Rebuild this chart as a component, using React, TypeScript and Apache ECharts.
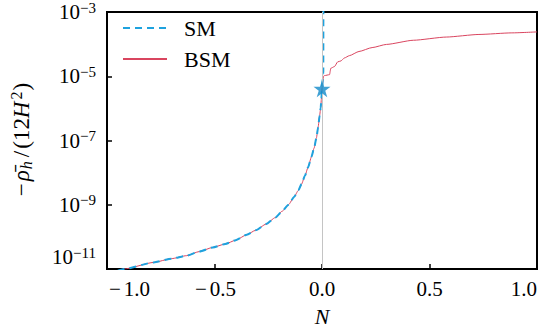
import React, { useEffect, useRef } from 'react';
import * as echarts from 'echarts';

// Shared branch (SM and BSM coincide for N <= 0)
const sharedN = [-0.95, -0.92, -0.783, -0.70, -0.63, -0.57, -0.508, -0.45, -0.401, -0.35, -0.309, -0.26, -0.217, -0.185, -0.156, -0.13, -0.11, -0.095, -0.08, -0.065, -0.049, -0.037, -0.026, -0.018, -0.011, -0.006, -0.003, 0];
const sharedRho = [8.9e-12, 1.0e-11, 1.6e-11, 2.1e-11, 2.6e-11, 3.5e-11, 4.7e-11, 6.0e-11, 7.9e-11, 1.17e-10, 1.6e-10, 2.5e-10, 4.0e-10, 6.3e-10, 1.0e-9, 1.74e-9, 2.8e-9, 4.4e-9, 7.8e-9, 1.45e-8, 3.1e-8, 5.75e-8, 1.2e-7, 2.6e-7, 6.0e-7, 1.05e-6, 1.9e-6, 4.1e-6];

// SM tail (shoots up just after N = 0)
const smTailN = [0.006, 0.0065];
const smTailRho = [1.3e-5, 1e-2];

// BSM tail (saturates for N > 0)
const bsmTailN = [0.007, 0.012, 0.035, 0.041, 0.058, 0.073, 0.088, 0.104, 0.127, 0.172, 0.233, 0.30, 0.425, 0.578, 0.730, 0.883, 1.0];
const bsmTailRho = [1.0e-5, 1.05e-5, 1.12e-5, 1.78e-5, 2.0e-5, 2.8e-5, 3.0e-5, 3.7e-5, 4.37e-5, 5.9e-5, 7.8e-5, 9.8e-5, 1.32e-4, 1.66e-4, 2.0e-4, 2.24e-4, 2.4e-4];

// Star marker
const starN = [0];
const starRho = [4.1e-6];

const seriesNames = ['SM', 'BSM'];

const FONT = '"Liberation Serif", "Times New Roman", serif';
const BLUE = '#1ea2de';
const RED = '#d9455f';
const STAR = '#1289c9';

const zip = (xs: number[], ys: number[]) => xs.map((x, i) => [x, ys[i]]);

export default function App() {
  const ref = useRef<HTMLDivElement>(null);
  useEffect(() => {
    if (!ref.current) return;
    const chart = echarts.init(ref.current, undefined, { renderer: 'svg' });
    const shared = zip(sharedN, sharedRho);
    const smData = shared.concat(zip(smTailN, smTailRho));
    const bsmData = shared.concat(zip(bsmTailN, bsmTailRho));
    const starData = zip(starN, starRho);

    chart.setOption({
      animation: false,
      textStyle: { fontFamily: FONT },
      grid: {
        left: 102.5,
        right: 2.5,
        top: 2,
        bottom: 61,
        show: true,
        borderColor: '#000',
        borderWidth: 2,
        backgroundColor: 'transparent',
      },
      legend: {
        data: seriesNames,
        orient: 'vertical',
        left: 122,
        top: 16,
        padding: 0,
        itemWidth: 44,
        itemHeight: 2,
        itemGap: 7,
        itemStyle: { opacity: 0 },
        textStyle: {
          fontFamily: FONT,
          fontSize: 22,
          lineHeight: 24,
          color: '#000',
          padding: [0, 0, 0, 12],
        },
      },
      xAxis: {
        type: 'value',
        min: -1,
        max: 1,
        interval: 0.5,
        name: 'N',
        nameLocation: 'middle',
        nameGap: 36,
        nameTextStyle: { fontFamily: FONT, fontSize: 22, fontStyle: 'italic', color: '#000' },
        axisLine: { show: false, onZero: false },
        axisTick: { show: true, inside: true, length: 5, lineStyle: { color: '#000', width: 1.5 } },
        splitLine: { show: false },
        axisLabel: {
          margin: 9,
          color: '#000',
          fontFamily: FONT,
          fontSize: 21,
          alignMinLabel: 'left',
          alignMaxLabel: 'right',
          formatter: (v: number) => (v < 0 ? '{m|−}' + Math.abs(v).toFixed(1) : v.toFixed(1)),
          rich: {
            m: { fontFamily: FONT, fontSize: 21, color: '#000', padding: [0, 3, 0, 2] },
          },
        },
      },
      yAxis: {
        type: 'log',
        logBase: 10,
        min: 1e-11,
        max: 1e-3,
        interval: 2,
        name: '{m|−}{i|ρ̄}{sb|h}{m|/}{t|(12}{i|H}{sp|2}{t|)}',
        nameLocation: 'middle',
        nameRotate: 90,
        nameGap: 73,
        nameTextStyle: {
          fontFamily: FONT,
          fontSize: 23,
          color: '#000',
          rich: {
            t: { fontFamily: FONT, fontSize: 23, lineHeight: 26, color: '#000' },
            m: { fontFamily: FONT, fontSize: 23, lineHeight: 26, color: '#000', padding: [0, 2, 0, 2] },
            i: { fontFamily: FONT, fontSize: 23, lineHeight: 26, fontStyle: 'italic', color: '#000', padding: [0, 1, 0, 0] },
            sb: { fontFamily: FONT, fontSize: 16, lineHeight: 17, fontStyle: 'italic', verticalAlign: 'bottom', color: '#000', padding: [0, 2, 0, 0] },
            sp: { fontFamily: FONT, fontSize: 16, lineHeight: 17, verticalAlign: 'top', color: '#000', padding: [0, 1, 0, 1] },
          },
        },
        axisLine: { show: false, onZero: false },
        axisTick: { show: true, inside: true, length: 5, lineStyle: { color: '#000', width: 1.5 } },
        minorTick: { show: false },
        splitLine: { show: false },
        axisLabel: {
          margin: 11,
          color: '#000',
          fontFamily: FONT,
          verticalAlignMinLabel: 'bottom',
          verticalAlignMaxLabel: 'top',
          formatter: (v: number) => {
            const e = Math.round(Math.log10(v));
            return '{b|10}{s|' + (e < 0 ? '−' : '') + Math.abs(e) + '}';
          },
          rich: {
            b: { fontFamily: FONT, fontSize: 21, lineHeight: 24, color: '#000' },
            s: { fontFamily: FONT, fontSize: 15, lineHeight: 17, verticalAlign: 'top', color: '#000' },
          },
        },
      },
      series: [
        {
          name: 'BSM',
          type: 'line',
          data: bsmData,
          symbol: 'none',
          showSymbol: false,
          smooth: 0.2,
          smoothMonotone: 'x',
          z: 2,
          lineStyle: { color: RED, width: 1 },
          itemStyle: { color: RED },
          markLine: {
            silent: true,
            symbol: 'none',
            label: { show: false },
            lineStyle: { color: '#c4c4c4', width: 1, type: 'solid' },
            data: [{ xAxis: 0 }],
          },
        },
        {
          name: 'SM',
          type: 'line',
          data: smData,
          symbol: 'none',
          showSymbol: false,
          smooth: 0.2,
          smoothMonotone: 'x',
          z: 3,
          lineStyle: { color: BLUE, width: 2, type: [7, 5] },
          itemStyle: { color: BLUE },
        },
        {
          name: 'star',
          type: 'scatter',
          data: starData,
          symbol: 'path://M50,0 L61.8,35.5 L99,35.5 L68.9,57.4 L80.3,92.7 L50,70.8 L19.7,92.7 L31.1,57.4 L1,35.5 L38.2,35.5 Z',
          symbolSize: 17,
          z: 5,
          itemStyle: { color: STAR },
        },
      ],
    });
    return () => chart.dispose();
  }, []);
  return <div ref={ref} style={{ position: 'absolute', left: 0, top: 0, width: 540, height: 332 }} />;
}
